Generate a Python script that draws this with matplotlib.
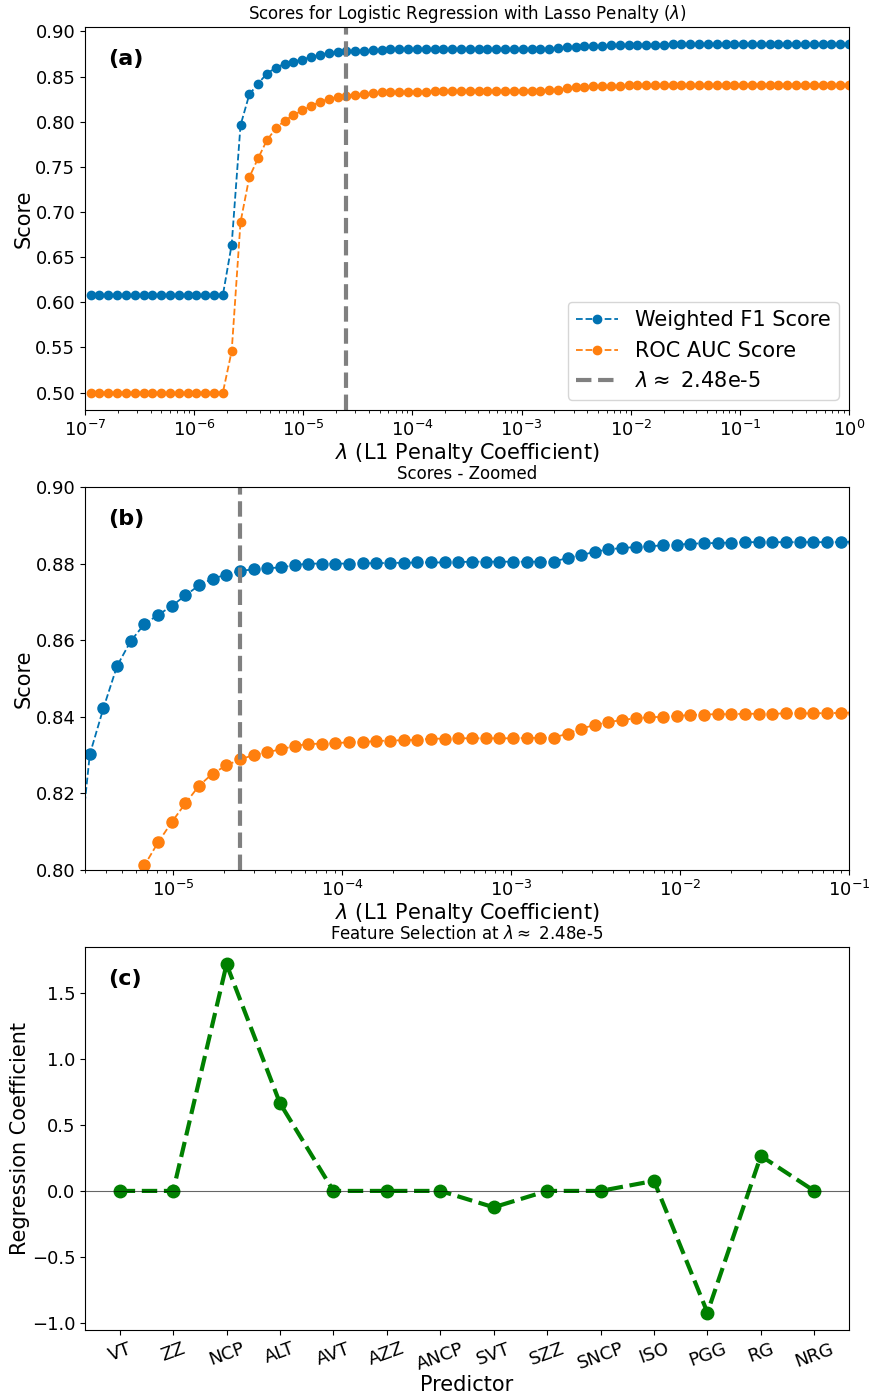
import matplotlib
matplotlib.use('Agg')
import matplotlib.pyplot as plt
import numpy as np

# lambda sweep grid (87 values, log spaced up to 1)
lambdas = np.logspace(-6.9487, 0, 87)
best_idx = 29

f1_scores = [
    0.608, 0.608, 0.608, 0.608, 0.608, 0.608, 0.608, 0.608,
    0.608, 0.608, 0.608, 0.608, 0.608, 0.608, 0.608, 0.608,
    0.664, 0.796, 0.8302, 0.8423, 0.8533, 0.8598, 0.8642, 0.8666,
    0.8689, 0.8717, 0.8743, 0.8761, 0.8771, 0.8781, 0.8785, 0.8788,
    0.8790, 0.8796, 0.8800, 0.8800, 0.8800, 0.8800, 0.8801, 0.8801,
    0.8802, 0.8802, 0.8803, 0.8803, 0.8803, 0.8804, 0.8805, 0.8805,
    0.8805, 0.8805, 0.8805, 0.8805, 0.8805, 0.8815, 0.8822, 0.8831,
    0.8837, 0.8841, 0.8843, 0.8845, 0.8848, 0.8849, 0.8852, 0.8853,
    0.8854, 0.8855, 0.8856, 0.8856, 0.8856, 0.8856, 0.8856, 0.8856,
    0.8856, 0.8856, 0.8857, 0.8857, 0.8857, 0.8857, 0.8857, 0.8857,
    0.8857, 0.8857, 0.8857, 0.8857, 0.8857, 0.8857, 0.8857,
]

auc_scores = [
    0.500, 0.500, 0.500, 0.500, 0.500, 0.500, 0.500, 0.500,
    0.500, 0.500, 0.500, 0.500, 0.500, 0.500, 0.500, 0.500,
    0.546, 0.6887, 0.7386, 0.7596, 0.7796, 0.7925, 0.8012, 0.8072,
    0.8125, 0.8174, 0.8220, 0.8252, 0.8273, 0.8289, 0.8300, 0.8308,
    0.8315, 0.8324, 0.8329, 0.8330, 0.8331, 0.8334, 0.8334, 0.8337,
    0.8338, 0.8339, 0.8340, 0.8343, 0.8343, 0.8344, 0.8344, 0.8344,
    0.8344, 0.8344, 0.8345, 0.8345, 0.8346, 0.8356, 0.8369, 0.8379,
    0.8386, 0.8392, 0.8396, 0.8399, 0.8400, 0.8402, 0.8405, 0.8406,
    0.8407, 0.8407, 0.8408, 0.8408, 0.8408, 0.8409, 0.8409, 0.8409,
    0.8410, 0.8410, 0.8411, 0.8411, 0.8411, 0.8411, 0.8411, 0.8411,
    0.8411, 0.8411, 0.8411, 0.8411, 0.8411, 0.8411, 0.8411,
]

predictors = ['VT', 'ZZ', 'NCP', 'ALT', 'AVT', 'AZZ', 'ANCP', 'SVT',
              'SZZ', 'SNCP', 'ISO', 'PGG', 'RG', 'NRG']
coefs = [0.0, 0.0, 1.717, 0.664, 0.0, 0.0, 0.0, -0.124,
         0.0, 0.0, 0.076, -0.922, 0.265, 0.0]

blue = '#0072b2'
orange = '#ff7f0e'
best_lam = lambdas[best_idx]

fig = plt.figure(figsize=(8.69, 13.95), dpi=100)
ax1 = fig.add_axes([0.0978, 0.7061, 0.8792, 0.2746])
ax2 = fig.add_axes([0.0978, 0.3763, 0.8792, 0.2746])
ax3 = fig.add_axes([0.0978, 0.0466, 0.8792, 0.2746])

# (a) full sweep
ax1.plot(lambdas, f1_scores, marker='o', linestyle='--', color=blue, ms=6, lw=1.3,
         label='Weighted F1 Score')
ax1.plot(lambdas, auc_scores, marker='o', linestyle='--', color=orange, ms=6, lw=1.3,
         label='ROC AUC Score')
ax1.axvline(best_lam, color='gray', linestyle='--', lw=3,
             label=r'$\lambda \approx$ 2.48e-5')
ax1.set_xscale('log')
ax1.set_xlim(1e-7, 1)
ax1.set_xlabel(r'$\lambda$ (L1 Penalty Coefficient)', fontsize=15, labelpad=1)
ax1.set_ylabel('Score', fontsize=15, labelpad=1)
ax1.set_title(r'Scores for Logistic Regression with Lasso Penalty ($\lambda$)', fontsize=12)
ax1.tick_params(labelsize=13)
ax1.legend(loc='lower right', fontsize=15)
ax1.text(0.03, 0.9, '(a)', transform=ax1.transAxes, fontsize=16, fontweight='bold')

# (b) zoomed
ax2.plot(lambdas, f1_scores, marker='o', linestyle='--', color=blue, ms=8, lw=1.3)
ax2.plot(lambdas, auc_scores, marker='o', linestyle='--', color=orange, ms=8, lw=1.3)
ax2.axvline(best_lam, color='gray', linestyle='--', lw=3)
ax2.set_xscale('log')
ax2.set_xlim(3e-6, 1e-1)
ax2.set_ylim(0.80, 0.90)
ax2.set_xlabel(r'$\lambda$ (L1 Penalty Coefficient)', fontsize=15, labelpad=1)
ax2.set_ylabel('Score', fontsize=15, labelpad=1)
ax2.set_title('Scores - Zoomed', fontsize=12)
ax2.tick_params(labelsize=13)
ax2.text(0.03, 0.9, '(b)', transform=ax2.transAxes, fontsize=16, fontweight='bold')

# (c) coefficients
ax3.plot(predictors, coefs, marker='o', linestyle='--', color='green', ms=9, lw=3)
ax3.axhline(0, color='k', lw=0.8, alpha=0.6)
ax3.set_xlabel('Predictor', fontsize=15, labelpad=1)
ax3.set_ylabel('Regression Coefficient', fontsize=15, labelpad=1)
ax3.set_title(r'Feature Selection at $\lambda \approx$ 2.48e-5', fontsize=12)
ax3.tick_params(labelsize=13)
plt.setp(ax3.get_xticklabels(), rotation=20)
ax3.text(0.03, 0.9, '(c)', transform=ax3.transAxes, fontsize=16, fontweight='bold')

fig.savefig('out.png', dpi=100)
